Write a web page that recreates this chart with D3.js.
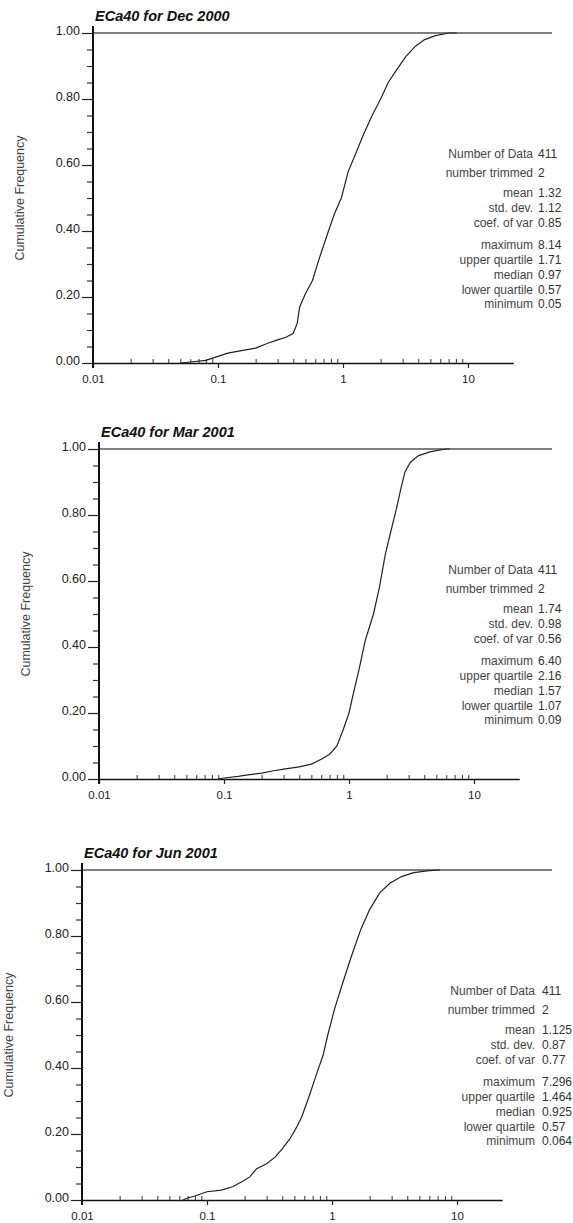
<!DOCTYPE html>
<html>
<head>
<meta charset="utf-8">
<script src="https://cdn.jsdelivr.net/npm/d3@7"></script>
<style>
  body { margin: 0; background: #fff; }
  svg { display: block; font-family: "Liberation Sans", Arial, sans-serif; }
</style>
</head>
<body>
<div class="visContainer"></div>
<script>
// Chart data.
const titles = ['ECa40 for Dec 2000', 'ECa40 for Mar 2001', 'ECa40 for Jun 2001'];

const decValues = [0.05, 0.06, 0.08, 0.10, 0.12, 0.15, 0.20, 0.25, 0.30, 0.35, 0.40, 0.43, 0.45, 0.50, 0.57, 0.65, 0.75, 0.85, 0.97, 1.10, 1.25, 1.45, 1.71, 2.00, 2.30, 2.70, 3.20, 3.80, 4.50, 5.50, 7.00, 8.14];
const decFreq   = [0.000, 0.003, 0.008, 0.020, 0.030, 0.037, 0.045, 0.060, 0.070, 0.078, 0.090, 0.120, 0.170, 0.210, 0.250, 0.320, 0.390, 0.450, 0.500, 0.580, 0.630, 0.690, 0.750, 0.800, 0.850, 0.890, 0.930, 0.960, 0.980, 0.992, 1.000, 1.000];

const marValues = [0.09, 0.10, 0.13, 0.15, 0.20, 0.25, 0.30, 0.40, 0.50, 0.60, 0.70, 0.80, 0.90, 1.00, 1.07, 1.20, 1.35, 1.57, 1.75, 1.95, 2.16, 2.40, 2.60, 2.80, 3.10, 3.60, 4.50, 6.00, 6.40];
const marFreq   = [0.000, 0.003, 0.008, 0.012, 0.018, 0.025, 0.030, 0.037, 0.045, 0.060, 0.075, 0.100, 0.150, 0.200, 0.250, 0.330, 0.420, 0.500, 0.580, 0.680, 0.750, 0.820, 0.880, 0.930, 0.960, 0.980, 0.992, 1.000, 1.000];

const junValues = [0.064, 0.07, 0.08, 0.10, 0.13, 0.16, 0.19, 0.22, 0.25, 0.30, 0.35, 0.40, 0.46, 0.52, 0.57, 0.65, 0.75, 0.85, 0.925, 1.05, 1.20, 1.35, 1.464, 1.70, 2.00, 2.40, 2.90, 3.60, 4.50, 6.00, 7.296];
const junFreq   = [0.000, 0.006, 0.012, 0.025, 0.030, 0.040, 0.055, 0.070, 0.095, 0.110, 0.130, 0.155, 0.185, 0.220, 0.250, 0.310, 0.380, 0.440, 0.500, 0.580, 0.650, 0.710, 0.750, 0.820, 0.880, 0.930, 0.960, 0.980, 0.992, 0.998, 1.000];

const statLabels = ['Number of Data', 'number trimmed', 'mean', 'std. dev.', 'coef. of var', 'maximum', 'upper quartile', 'median', 'lower quartile', 'minimum'];
const decStats = ['411', '2', '1.32', '1.12', '0.85', '8.14', '1.71', '0.97', '0.57', '0.05'];
const marStats = ['411', '2', '1.74', '0.98', '0.56', '6.40', '2.16', '1.57', '1.07', '0.09'];
const junStats = ['411', '2', '1.125', '0.87', '0.77', '7.296', '1.464', '0.925', '0.57', '0.064'];

const xMajor = [0.01, 0.1, 1, 10];
const xMinor = [0.02, 0.03, 0.04, 0.05, 0.06, 0.07, 0.08, 0.09, 0.2, 0.3, 0.4, 0.5, 0.6, 0.7, 0.8, 0.9, 2, 3, 4, 5, 6, 7, 8, 9];
const yMajor = [0, 0.2, 0.4, 0.6, 0.8, 1];
const yMinor = [0.05, 0.1, 0.15, 0.25, 0.3, 0.35, 0.45, 0.5, 0.55, 0.65, 0.7, 0.75, 0.85, 0.9, 0.95];

// Layout constants.
const width = 573;
const height = 1223;
const plotHeight = 330;
const decade = 125;
const xMax = 23;
const statOffsets = [121, 140, 160, 175, 190, 212, 227, 242, 257, 271];

const panels = [
    { title: titles[0], values: decValues, freq: decFreq, stats: decStats, x0: 93, top: 33, labelEnd: 533, valueStart: 538 },
    { title: titles[1], values: marValues, freq: marFreq, stats: marStats, x0: 99, top: 449, labelEnd: 533, valueStart: 538 },
    { title: titles[2], values: junValues, freq: junFreq, stats: junStats, x0: 82, top: 870, labelEnd: 535, valueStart: 542 }
];

const svg = d3.select('.visContainer')
              .append('svg')
              .attr('width', width)
              .attr('height', height);

svg.append('rect')
   .attr('width', width)
   .attr('height', height)
   .attr('fill', '#fff');

panels.forEach(p => drawPanel(p));

function drawPanel(p) {
    const x = d3.scaleLog()
                .domain([0.01, xMax])
                .range([p.x0, p.x0 + decade * Math.log10(xMax / 0.01)]);
    const y = d3.scaleLinear()
                .domain([0, 1])
                .range([p.top + plotHeight, p.top]);

    const g = svg.append('g');

    // Title.
    g.append('text')
     .attr('x', p.x0 + 2)
     .attr('y', p.top - 12)
     .attr('font-size', '14.5px')
     .attr('font-weight', 'bold')
     .attr('font-style', 'italic')
     .attr('fill', '#111')
     .text(p.title);

    // Line at 1.00.
    g.append('line')
     .attr('x1', p.x0)
     .attr('x2', 552)
     .attr('y1', y(1))
     .attr('y2', y(1))
     .attr('stroke', '#555')
     .attr('stroke-width', 1.6);

    // Y axis, major and minor ticks.
    const yAxis = g.append('g')
                   .attr('transform', `translate(${p.x0},0)`)
                   .call(d3.axisLeft(y).tickValues(yMajor).tickSize(11).tickPadding(2).tickFormat(d3.format('.2f')));
    yAxis.select('.domain').remove();
    yAxis.selectAll('text')
         .attr('dy', '0.1em')
         .attr('font-size', '12.5px')
         .attr('font-family', '"Liberation Sans", Arial, sans-serif')
         .attr('fill', '#222');
    yAxis.selectAll('line').attr('stroke', '#222').attr('stroke-width', 1.2);

    const yMinorAxis = g.append('g')
                        .attr('transform', `translate(${p.x0},0)`)
                        .call(d3.axisLeft(y).tickValues(yMinor).tickSize(6).tickFormat(''));
    yMinorAxis.select('.domain').remove();
    yMinorAxis.selectAll('line').attr('stroke', '#333').attr('stroke-width', 1.2);

    // X axis, major and minor ticks.
    const xAxis = g.append('g')
                   .attr('transform', `translate(0,${y(0)})`)
                   .call(d3.axisBottom(x).tickValues(xMajor).tickSize(5).tickPadding(7).tickSizeOuter(0).tickFormat(d => String(d)));
    xAxis.select('.domain').attr('stroke', '#111').attr('stroke-width', 1.6);
    xAxis.selectAll('text')
         .attr('font-size', '11.5px')
         .attr('font-family', '"Liberation Sans", Arial, sans-serif')
         .attr('fill', '#222');
    xAxis.selectAll('line').attr('stroke', '#222').attr('stroke-width', 1.2);

    const xMinorAxis = g.append('g')
                        .attr('transform', `translate(0,${y(0)})`)
                        .call(d3.axisBottom(x).tickValues(xMinor).tickSize(-4).tickFormat(''));
    xMinorAxis.select('.domain').remove();
    xMinorAxis.selectAll('line').attr('stroke', '#333').attr('stroke-width', 1);

    // Vertical axis line.
    g.append('line')
     .attr('x1', p.x0)
     .attr('x2', p.x0)
     .attr('y1', y(1) - 7)
     .attr('y2', y(0) + 5)
     .attr('stroke', '#111')
     .attr('stroke-width', 2);

    // Axis title.
    g.append('text')
     .attr('transform', `translate(${p.x0 - 69},${(y(0) + y(1)) / 2}) rotate(-90)`)
     .attr('text-anchor', 'middle')
     .attr('font-size', '12.5px')
     .attr('fill', '#444')
     .text('Cumulative Frequency');

    // Cumulative frequency curve.
    const points = p.values.map((v, i) => [v, p.freq[i]]);
    g.append('path')
     .datum(points)
     .attr('fill', 'none')
     .attr('stroke', '#222')
     .attr('stroke-width', 1.2)
     .attr('d', d3.line().x(d => x(d[0])).y(d => y(d[1])));

    // Summary statistics.
    statLabels.forEach((label, i) => {
        const ty = p.top + statOffsets[i] + 4;
        g.append('text')
         .attr('x', p.labelEnd)
         .attr('y', ty)
         .attr('text-anchor', 'end')
         .attr('font-size', '12px')
         .attr('fill', '#444')
         .text(label);
        g.append('text')
         .attr('x', p.valueStart)
         .attr('y', ty)
         .attr('font-size', '12px')
         .attr('fill', '#333')
         .text(p.stats[i]);
    });
}
</script>
</body>
</html>
